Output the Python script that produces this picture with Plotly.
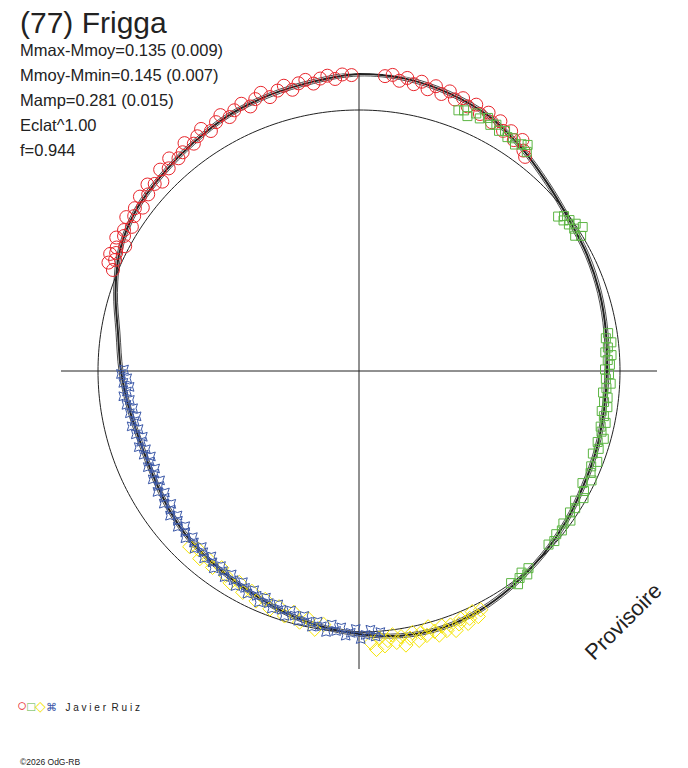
import plotly.graph_objects as go
import numpy as np

# --- data: rotation phase (0..1) and radius (plot units, ref circle = 261) ---
fit_phase = [0.000, 0.025, 0.050, 0.075, 0.100, 0.125, 0.150, 0.175, 0.200, 0.225,
             0.250, 0.275, 0.300, 0.325, 0.350, 0.375, 0.400, 0.425, 0.450, 0.475,
             0.500, 0.525, 0.550, 0.575, 0.600, 0.625, 0.650, 0.675, 0.700, 0.725,
             0.750, 0.775, 0.800, 0.825, 0.850, 0.875, 0.900, 0.925, 0.950, 0.975]
fit_r = [297, 296, 292, 286, 276, 266, 259, 256, 253, 250,
         248, 248, 250, 252, 256, 260, 264, 268, 270, 268,
         263, 258, 252, 246, 242, 239, 235, 231, 230, 233,
         238, 244, 256, 268, 275, 278, 282, 287, 290, 293]

red_phase = [0.812, 0.815, 0.818, 0.820, 0.822, 0.825, 0.828, 0.830, 0.833, 0.836,
             0.840, 0.843, 0.846, 0.850, 0.853, 0.857, 0.861, 0.865, 0.868, 0.872,
             0.876, 0.880, 0.884, 0.888, 0.892, 0.896, 0.900, 0.904, 0.908, 0.912,
             0.917, 0.921, 0.925, 0.929, 0.934, 0.938, 0.942, 0.946, 0.950, 0.955,
             0.959, 0.963, 0.967, 0.971, 0.975, 0.979, 0.983, 0.987, 0.991, 0.996,
             0.014, 0.018, 0.022, 0.026, 0.030, 0.034, 0.038, 0.042, 0.046, 0.050,
             0.054, 0.058, 0.062, 0.066, 0.070, 0.074, 0.078, 0.082, 0.086, 0.090,
             0.094, 0.098, 0.102, 0.105]
red_r = [266, 273, 268, 275, 270, 272, 265, 277, 271, 274,
         269, 279, 273, 277, 271, 280, 275, 282, 277, 273,
         283, 278, 285, 279, 281, 287, 281, 285, 289, 282,
         287, 291, 285, 289, 292, 286, 291, 295, 288, 292,
         295, 289, 294, 296, 291, 295, 297, 293, 297, 296,
         296, 298, 293, 297, 292, 296, 290, 295, 289, 294,
         288, 292, 286, 291, 284, 289, 282, 287, 280, 284,
         278, 283, 275, 271]

green_phase = [0.058, 0.061, 0.064, 0.068, 0.071, 0.075, 0.078, 0.081, 0.084, 0.087,
               0.090, 0.093, 0.096, 0.099, 0.102, 0.104,
               0.145, 0.147, 0.149, 0.151, 0.153, 0.155, 0.157, 0.159, 0.161, 0.163,
               0.226, 0.229, 0.232, 0.235, 0.238, 0.240, 0.243, 0.246, 0.249, 0.252,
               0.255, 0.258, 0.261, 0.264, 0.267, 0.270, 0.273, 0.276, 0.279, 0.283,
               0.286, 0.289, 0.293, 0.296, 0.300, 0.304, 0.308, 0.312, 0.316, 0.320,
               0.324, 0.328, 0.332, 0.336, 0.340, 0.344, 0.348, 0.352, 0.356, 0.360,
               0.364, 0.368,
               0.387, 0.390, 0.392, 0.395, 0.398, 0.401]
green_r = [279, 281, 277, 283, 280, 284, 279, 282, 278, 281,
           277, 279, 275, 279, 282, 276,
           252, 257, 254, 259, 256, 262, 258, 266, 255, 260,
           252, 249, 254, 250, 247, 253, 249, 251, 246, 250,
           247, 252, 248, 245, 250, 247, 251, 246, 249, 252,
           248, 250, 254, 249, 252, 248, 255, 251, 253, 257,
           250, 255, 258, 252, 256, 254, 259, 255, 258, 256,
           259, 257,
           260, 264, 259, 262, 266, 261]

yellow_phase = [0.425, 0.428, 0.430, 0.433, 0.435, 0.438, 0.440, 0.443, 0.445, 0.448,
                0.450, 0.453, 0.455, 0.458, 0.460, 0.463, 0.465, 0.468, 0.470, 0.473,
                0.475, 0.478, 0.480, 0.483, 0.485, 0.488, 0.490, 0.493,
                0.522, 0.527, 0.532, 0.537, 0.542, 0.547, 0.552, 0.557, 0.562, 0.567,
                0.572, 0.577, 0.582, 0.587, 0.592, 0.597, 0.602, 0.607, 0.612, 0.617,
                0.622]
yellow_r = [268, 273, 266, 271, 275, 268, 272, 277, 270, 274,
            268, 276, 271, 265, 273, 269, 276, 267, 272, 278,
            269, 274, 266, 271, 276, 268, 279, 272,
            256, 262, 253, 258, 250, 256, 249, 254, 247, 252,
            245, 250, 243, 248, 244, 240, 245, 241, 246, 240,
            244]

blue_phase = [0.487, 0.490, 0.493, 0.496, 0.499, 0.502, 0.505, 0.508, 0.511, 0.514,
              0.517, 0.520, 0.523, 0.526, 0.529, 0.532, 0.535, 0.538, 0.541, 0.544,
              0.547, 0.550, 0.553, 0.556, 0.559, 0.562, 0.565, 0.568, 0.571, 0.574,
              0.577, 0.580, 0.583, 0.586, 0.589, 0.592, 0.595, 0.598, 0.601, 0.604,
              0.607, 0.610, 0.613, 0.616, 0.619, 0.622, 0.625, 0.628, 0.631, 0.634,
              0.637, 0.640, 0.643, 0.646, 0.649, 0.652, 0.655, 0.658, 0.661, 0.664,
              0.667, 0.670, 0.673, 0.676, 0.679, 0.682, 0.685, 0.688, 0.691, 0.694,
              0.697, 0.700, 0.703, 0.706, 0.709, 0.712, 0.715, 0.718, 0.721, 0.724,
              0.727, 0.730, 0.733, 0.736, 0.739, 0.742, 0.745, 0.748, 0.751]
blue_r = [262, 266, 259, 264, 268, 258, 262, 265, 257, 261,
          255, 263, 258, 254, 260, 256, 251, 257, 253, 249,
          256, 251, 247, 253, 249, 245, 252, 247, 243, 249,
          245, 241, 248, 244, 240, 246, 242, 239, 245, 241,
          237, 243, 239, 236, 242, 238, 235, 241, 237, 233,
          239, 235, 232, 238, 234, 230, 236, 232, 229, 235,
          231, 227, 233, 229, 226, 232, 228, 225, 231, 227,
          233, 229, 226, 232, 228, 234, 230, 227, 233, 229,
          235, 231, 237, 233, 230, 236, 232, 238, 235]

REF_R = 261
R_MAX = 298
ENV = 2

stats_lines = ["Mmax-Mmoy=0.135 (0.009)", "Mmoy-Mmin=0.145 (0.007)",
               "Mamp=0.281 (0.015)", "Eclat^1.00", "f=0.944"]

W, H = 688, 768
INK = "#222222"
RED, GREEN, YELLOW, BLUE = "#e8262c", "#5cb543", "#f5e400", "#3b58a8"


def deg(ph):
    return [p * 360 for p in ph]


fig = go.Figure()

# reference circle
ring = np.linspace(0, 360, 361)
fig.add_trace(go.Scatterpolar(theta=ring, r=[REF_R] * len(ring), mode="lines",
                              line=dict(color=INK, width=1), hoverinfo="skip"))

# fitted curve with its envelope
fit_t = deg(fit_phase) + [360]
fit_c = fit_r + [fit_r[0]]
for off, w in [(-ENV, 0.8), (ENV, 0.8), (0, 2)]:
    fig.add_trace(go.Scatterpolar(theta=fit_t, r=[v + off for v in fit_c], mode="lines",
                                  line=dict(color=INK, width=w, shape="spline"),
                                  hoverinfo="skip"))

series = [
    (red_phase, red_r, "circle-open", RED, 13),
    (green_phase, green_r, "square-open", GREEN, 9),
    (yellow_phase, yellow_r, "diamond-open", YELLOW, 11),
    (blue_phase, blue_r, "star-square-open", BLUE, 8),
]
for ph, rr, sym, col, sz in series:
    fig.add_trace(go.Scatterpolar(theta=deg(ph), r=rr, mode="markers", cliponaxis=False,
                                  marker=dict(symbol=sym, size=sz, color=col,
                                              line=dict(color=col, width=1))))

# --- text ---
ann = [dict(x=18 / W, y=1 - 23 / H, text="(77) Frigga", font=dict(size=30))]
for i, s in enumerate(stats_lines):
    ann.append(dict(x=18 / W, y=1 - (50 + 25 * i) / H, text=s, font=dict(size=16.5)))
ann.append(dict(x=623 / W, y=1 - 621 / H, text="Provisoire", textangle=-45,
                xanchor="center", font=dict(size=22)))
legend_txt = (f"<span style='color:{RED};font-size:17px'>○</span>"
              f"<span style='color:{GREEN};font-size:13px'>□</span>"
              f"<span style='color:{YELLOW};font-size:14px'>◇</span>"
              f"<span style='color:{BLUE};font-size:11px'>⌘</span>"
              "<span style='font-size:10px'>   J a v i e r  R u i z</span>")
ann.append(dict(x=15 / W, y=1 - 705 / H, text=legend_txt, font=dict(size=13)))
ann.append(dict(x=18 / W, y=1 - 762 / H, text="©2026 OdG-RB", font=dict(size=8.5)))
for a in ann:
    a.setdefault("xanchor", "left")
    a.update(xref="paper", yref="paper", yanchor="middle", showarrow=False)
    a["font"].update(family="Liberation Sans, Arial, sans-serif", color=INK)

fig.update_layout(
    width=W, height=H,
    margin=dict(l=0, r=0, t=0, b=0),
    paper_bgcolor="white",
    showlegend=False,
    annotations=ann,
    polar=dict(
        domain=dict(x=[61 / W, 657 / W], y=[1 - 669 / H, 1 - 73 / H]),
        bgcolor="white",
        radialaxis=dict(range=[0, R_MAX], showgrid=False, showline=False,
                        showticklabels=False, ticks=""),
        angularaxis=dict(rotation=90, direction="clockwise", tick0=0, dtick=90,
                         showgrid=True, gridcolor=INK, gridwidth=1,
                         showline=False, showticklabels=False, ticks=""),
    ),
)

fig.write_html("out.html", config={"displayModeBar": False},
               post_script="document.body.style.margin='0';")
